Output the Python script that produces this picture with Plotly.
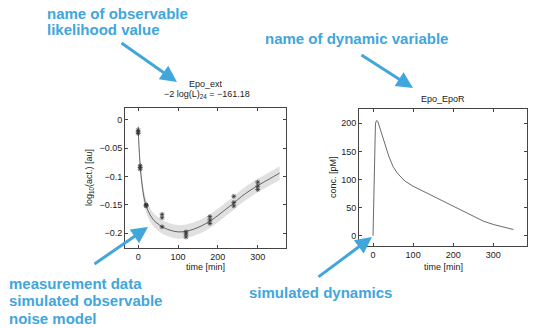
import plotly.graph_objects as go

W, H = 534, 328

# ---------------- data ----------------
# measurement data (Epo_ext), 8 time points x 3 replicates
meas_t = [0, 0, 0, 5, 5, 5, 20, 20, 20, 60, 60, 60, 120, 120, 120,
          180, 180, 180, 240, 240, 240, 300, 300, 300]
meas_y = [-0.018, -0.021, -0.024, -0.081, -0.084, -0.087, -0.150, -0.151, -0.152,
          -0.167, -0.173, -0.189, -0.198, -0.202, -0.207, -0.171, -0.177, -0.183,
          -0.135, -0.146, -0.152, -0.110, -0.117, -0.123]

# simulated observable
obs_t = [0, 2, 5, 10, 15, 20, 30, 40, 50, 60, 80, 100, 120, 140, 160, 180,
         200, 220, 240, 260, 280, 300, 320, 340, 355]
obs_y = [-0.012, -0.045, -0.080, -0.115, -0.138, -0.152, -0.168, -0.178, -0.184,
         -0.189, -0.195, -0.198, -0.197, -0.193, -0.187, -0.179, -0.169, -0.158,
         -0.147, -0.135, -0.125, -0.116, -0.108, -0.100, -0.094]
noise_sd = 0.012

# simulated dynamics (Epo_EpoR)
dyn_t = [0, 1, 2, 3, 4, 5, 6, 8, 10, 12, 15, 20, 25, 30, 40, 50, 60, 70, 80,
         100, 125, 150, 175, 200, 225, 250, 275, 300, 325, 350]
dyn_y = [0, 45, 95, 140, 175, 192, 199, 204, 205, 203, 196, 183, 171, 160, 140,
         123, 112, 104, 97, 88, 79, 70, 61, 52, 43, 34, 26, 20, 15, 11]

left_yticks = [0, -0.05, -0.1, -0.15, -0.2]
x_ticks = [0, 100, 200, 300]
right_yticks = [0, 50, 100, 150, 200]

# ---------------- helpers ----------------
def px(x):
    return x / W

def py(y):
    return 1 - y / H

BLUE = "#41A6DB"
AX = "#444444"
FONT = "Liberation Sans"

fig = go.Figure()

upper = [v + noise_sd for v in obs_y]
lower = [v - noise_sd for v in obs_y]
fig.add_trace(go.Scatter(x=obs_t, y=upper, mode="lines", line=dict(width=0),
                         line_shape="spline",
                         hoverinfo="skip", showlegend=False, xaxis="x", yaxis="y"))
fig.add_trace(go.Scatter(x=obs_t, y=lower, mode="lines", line=dict(width=0),
                         line_shape="spline",
                         fill="tonexty", fillcolor="#e0e0e0", hoverinfo="skip",
                         showlegend=False, xaxis="x", yaxis="y"))
fig.add_trace(go.Scatter(x=obs_t, y=obs_y, mode="lines", line=dict(color="#444444", width=0.8),
                         line_shape="spline", showlegend=False, xaxis="x", yaxis="y"))
fig.add_trace(go.Scatter(x=meas_t, y=meas_y, mode="markers",
                         marker=dict(symbol="asterisk-open", size=4, color="#333333",
                                     line=dict(width=0.8, color="#333333")),
                         showlegend=False, xaxis="x", yaxis="y"))

fig.add_trace(go.Scatter(x=dyn_t, y=dyn_y, mode="lines", line=dict(color="#444444", width=0.8),
                         showlegend=False, xaxis="x2", yaxis="y2"))

axis_common = dict(showline=True, mirror="ticks", linecolor=AX, linewidth=1,
                   ticks="inside", ticklen=3, tickcolor=AX, showgrid=False,
                   zeroline=False, tickfont=dict(family=FONT, size=9, color="#222222"))

fig.update_layout(
    width=W, height=H,
    margin=dict(l=0, r=0, t=0, b=0),
    paper_bgcolor="white", plot_bgcolor="white",
    showlegend=False,
    xaxis=dict(domain=[px(125), px(286)], range=[-33, 371], tickvals=x_ticks,
               anchor="y", **axis_common),
    yaxis=dict(domain=[py(248), py(108)], range=[-0.2265, 0.0212], tickvals=left_yticks,
               ticktext=["0", "\u22120.05", "\u22120.1", "\u22120.15", "\u22120.2"],
               anchor="x", **axis_common),
    xaxis2=dict(domain=[px(359), px(527)], range=[-35, 384], tickvals=x_ticks,
                anchor="y2", **axis_common),
    yaxis2=dict(domain=[py(246), py(109)], range=[-18.3, 225.4], tickvals=right_yticks,
                anchor="x2", **axis_common),
)

ann = []
def text(x, y, s, size=9, color="#222222", xanchor="center", bold=False, angle=0):
    ann.append(dict(x=px(x), y=py(y), xref="paper", yref="paper", text=s,
                    showarrow=False, xanchor=xanchor, yanchor="middle",
                    textangle=angle,
                    font=dict(family=FONT, size=size, color=color,
                              weight="bold" if bold else "normal")))

def arrow(x0, y0, x1, y1):
    ann.append(dict(x=px(x1), y=py(y1), xref="paper", yref="paper",
                    ax=x0 - x1, ay=y0 - y1, axref="pixel", ayref="pixel",
                    text="", showarrow=True, arrowhead=2, arrowsize=1.1,
                    arrowwidth=3, arrowcolor=BLUE, standoff=0))

# plot titles
text(205.5, 83.5, "Epo_ext")
text(207, 94.5, "\u22122 log(L)<sub>24</sub> = \u2212161.18")
text(443, 99, "Epo_EpoR")
# axis titles
text(205.5, 267, "time [min]")
text(443, 267, "time [min]")
text(89, 178, "log<sub>10</sub>(act.) [au]", angle=-90)
text(333, 177, "conc. [pM]", angle=-90)

# explanatory blue labels
text(45, 13, "name of observable", size=15, color=BLUE, xanchor="left", bold=True)
text(45, 30, "likelihood value", size=15, color=BLUE, xanchor="left", bold=True)
text(263, 38, "name of dynamic variable", size=15, color=BLUE, xanchor="left", bold=True)
text(7, 283, "measurement data", size=15, color=BLUE, xanchor="left", bold=True)
text(7, 300, "simulated observable", size=15, color=BLUE, xanchor="left", bold=True)
text(7, 318, "noise model", size=15, color=BLUE, xanchor="left", bold=True)
text(247, 292, "simulated dynamics", size=15, color=BLUE, xanchor="left", bold=True)

arrow(120, 42, 177, 82)
arrow(360, 54, 413, 88)
arrow(93, 265, 148, 227)
arrow(317, 278, 372, 237)

fig.update_layout(annotations=ann)
fig.write_html("out.html")
